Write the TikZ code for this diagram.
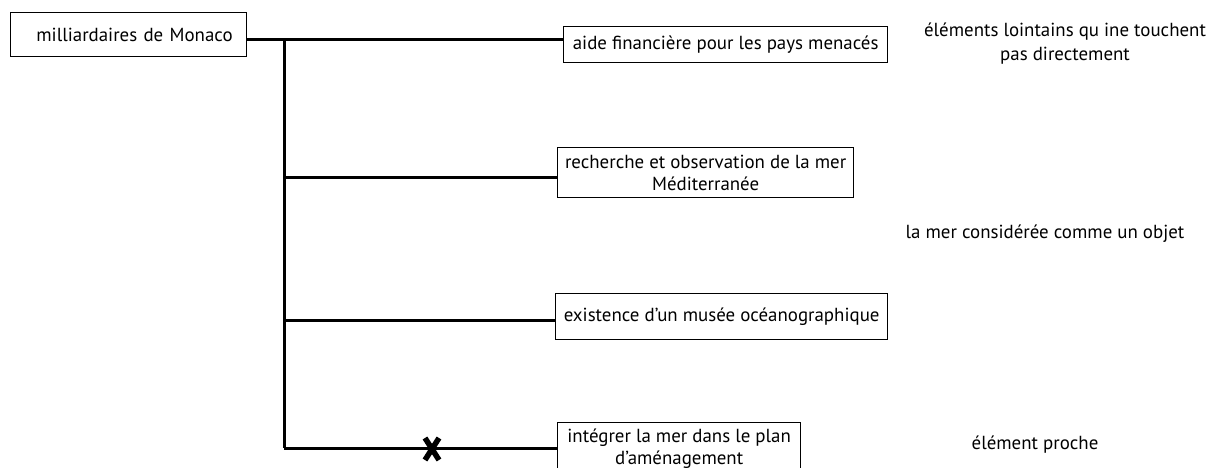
\documentclass[tikz,border=0pt]{standalone}
\usepackage{fontspec}
\setmainfont{PT Sans}
\usetikzlibrary{calc}
\begin{document}
\begin{tikzpicture}[x=1pt,y=-1pt,
  box/.style={draw, line width=1.3pt, inner xsep=4pt, inner ysep=0pt, align=center, anchor=north west, font=\fontsize{18.9}{22}\selectfont},
  conn/.style={line width=3pt},
  lbl/.style={align=center, inner sep=0pt, font=\fontsize{18.9}{24}\selectfont},
  xmark/.style={line width=5.5pt}]
\clip (0,0) rectangle (1215,468);
\fill[white] (0,0) rectangle (1215,468);
\node[box, inner xsep=14pt, text width=208pt, align=right, minimum height=44pt] (m) at (10,12) {milliardaires de Monaco};
\node[box, minimum width=324pt, minimum height=36pt] (aide) at (563,26) {aide financière pour les pays menacés};
\node[box, minimum width=296pt, minimum height=50pt] (rech) at (557,147) {recherche et observation de la mer\\Méditerranée};
\node[box, minimum width=332pt, minimum height=46pt] (exist) at (555,293) {existence d’un musée océanographique};
\node[box, minimum width=243pt, minimum height=52pt] (integ) at (557,422) {intégrer la mer dans le plan\\d’aménagement};
\coordinate (j0) at (284,40);
\coordinate (j1) at (284,177);
\coordinate (j2) at (284,320);
\coordinate (j3) at (284,448);
\draw[conn] (m.east |- j0) -- (aide.west |- j0);
\draw[conn] (j0) -- (j3);
\draw[conn] (j1) -- (rech.west |- j1);
\draw[conn] (j2) -- (exist.west |- j2);
\draw[conn] (j3) -- (integ.west |- j3);
\coordinate (x) at (432,449);
\draw[xmark] ($(x)+(-7,-11)$) -- ($(x)+(7,11)$);
\draw[xmark] ($(x)+(7,-11)$) -- ($(x)+(-7,11)$);
\node[lbl] (l1) at (1065,44) {éléments lointains qu ine touchent\\pas directement};
\node[lbl] (l2) at (1045,234) {la mer considérée comme un objet};
\node[lbl] (l3) at (1035,445) {élément proche};
\end{tikzpicture}
\end{document}
